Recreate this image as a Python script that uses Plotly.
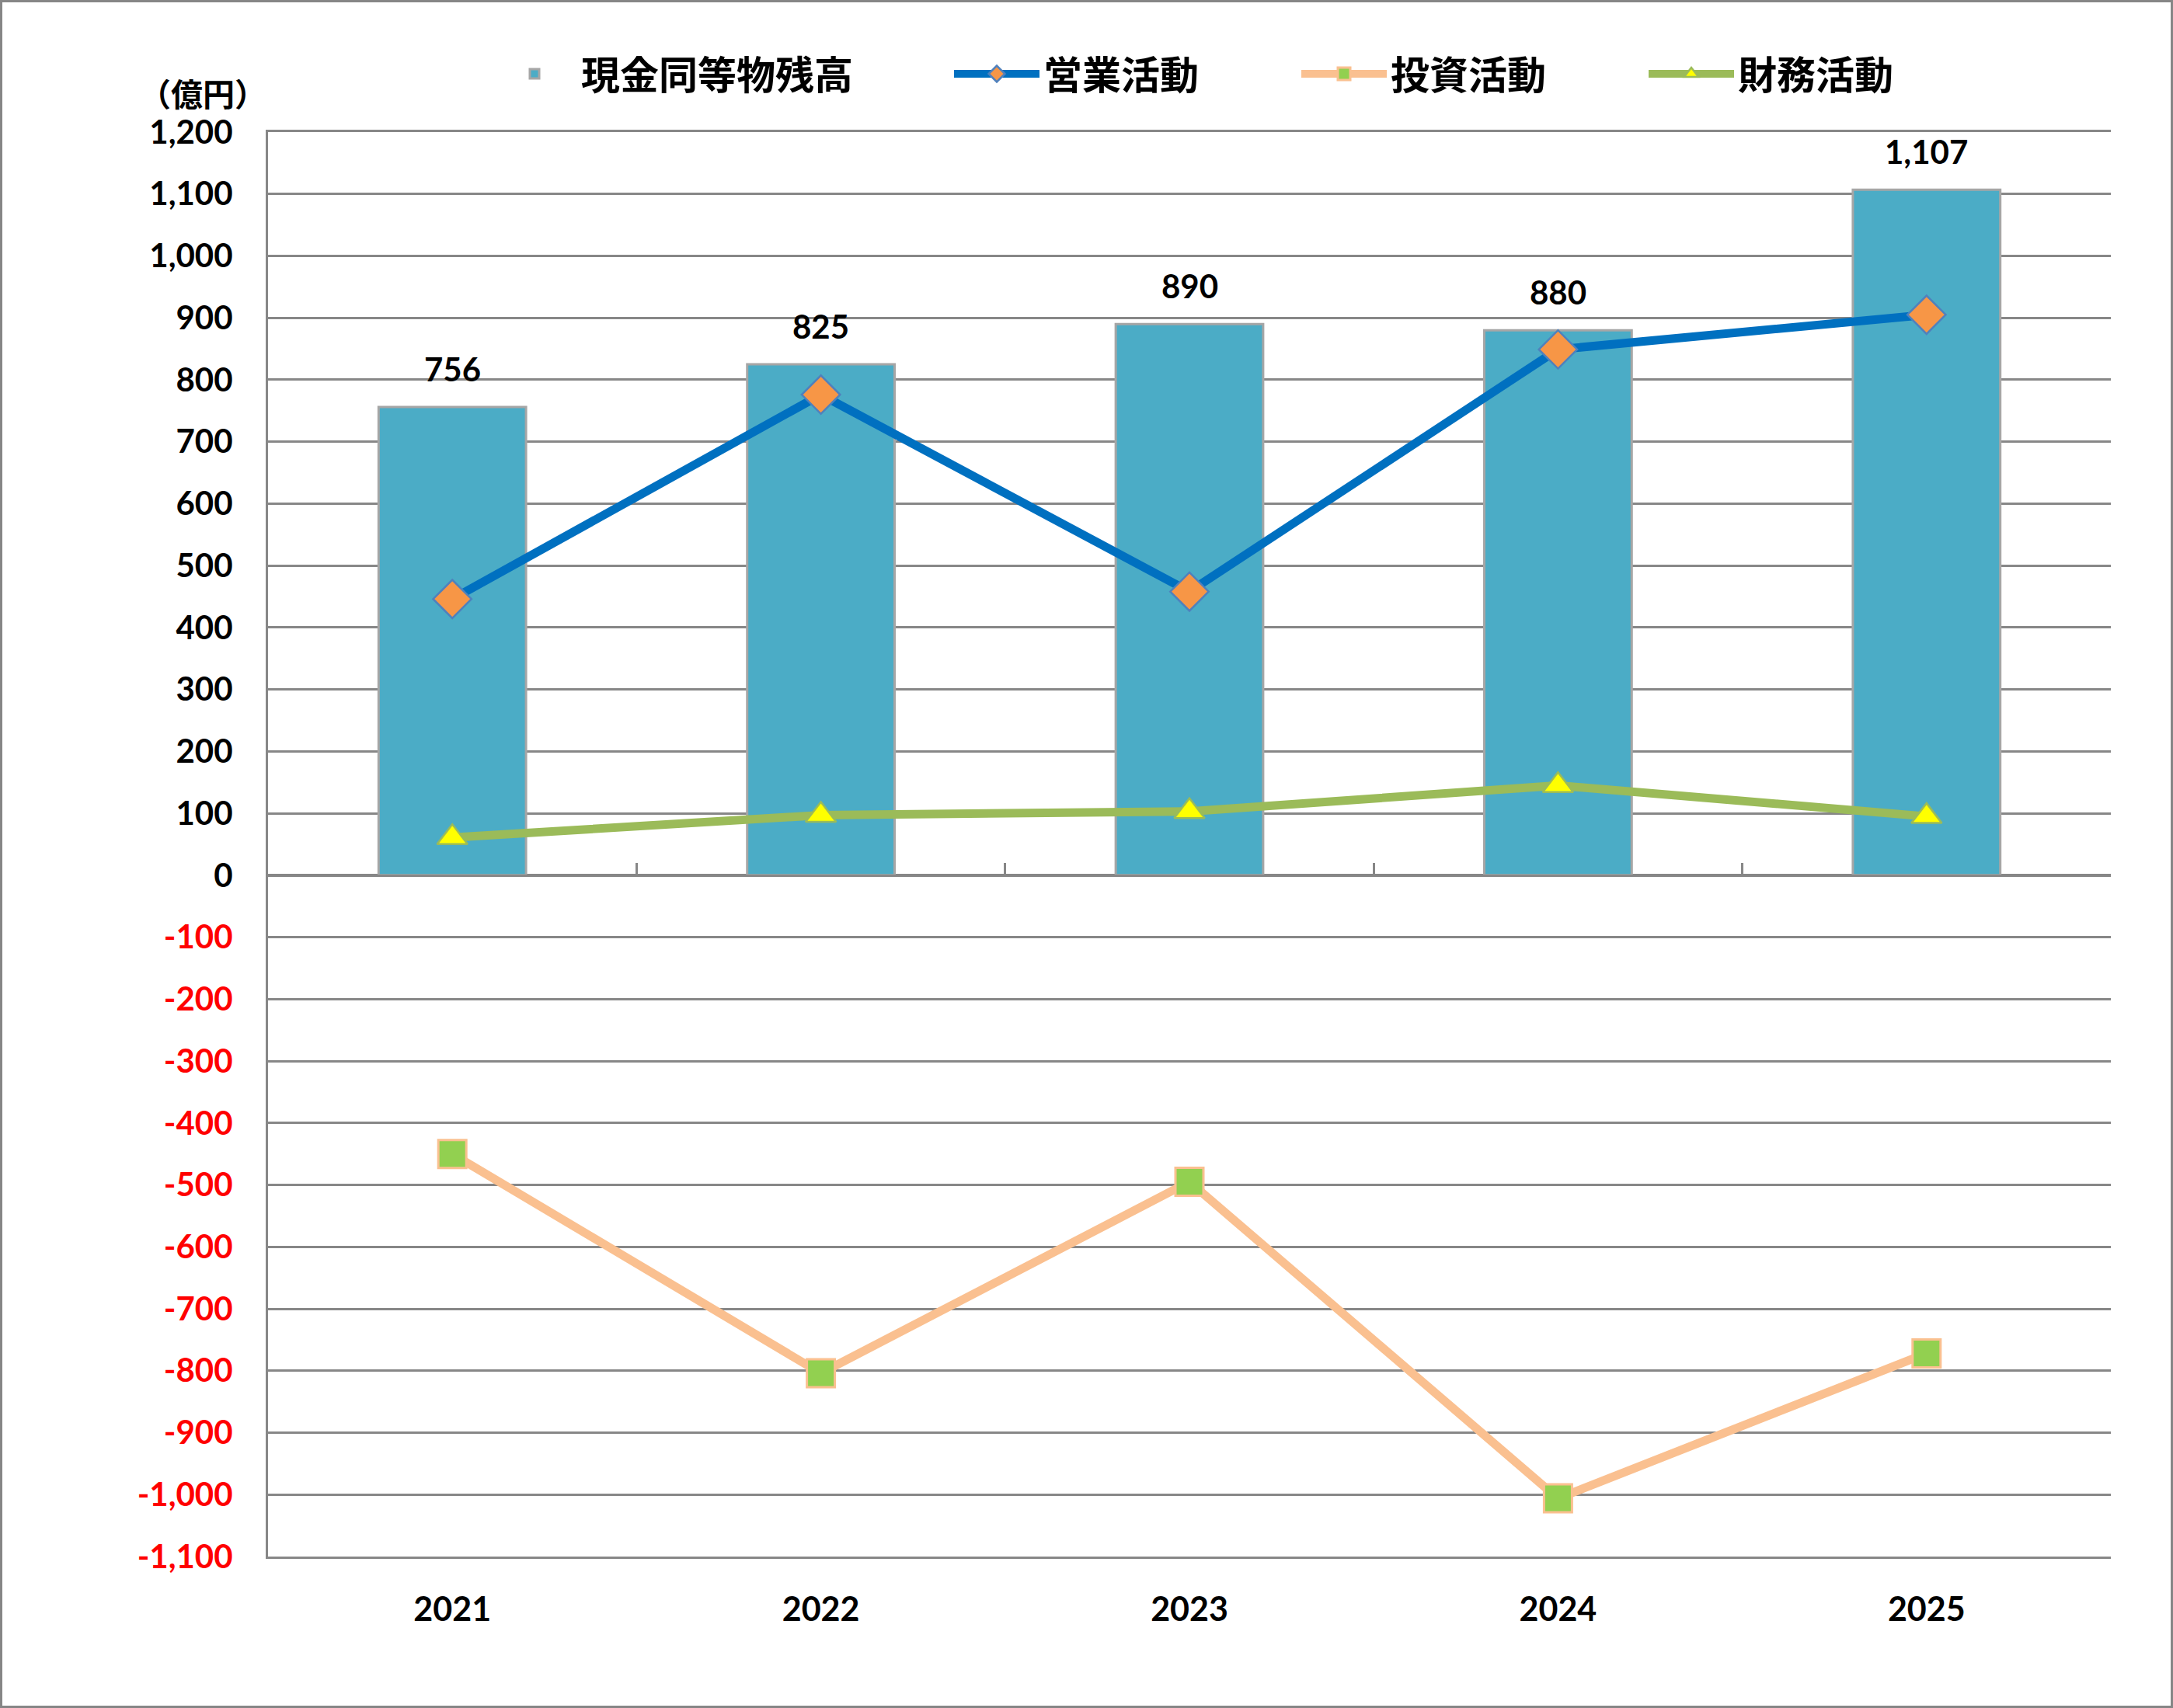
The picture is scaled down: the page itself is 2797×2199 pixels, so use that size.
import plotly.graph_objects as go

years = ["2021", "2022", "2023", "2024", "2025"]
cash_balance = [756, 825, 890, 880, 1107]
operating_cf = [446, 776, 458, 849, 905]
investing_cf = [-450, -804, -495, -1006, -772]
financing_cf = [61, 97, 103, 145, 95]

pos_ticks = [0, 100, 200, 300, 400, 500, 600, 700, 800, 900, 1000, 1100, 1200]
neg_ticks = [-1100, -1000, -900, -800, -700, -600, -500, -400, -300, -200, -100]
y_range = [-1100, 1200]

W, H = 2797, 2199
ML, MR, MT, MB = 345, 80, 170, 195
PW, PH = W - ML - MR, H - MT - MB

GRID = "#878787"
NUM_FONT = "Lato, 'Open Sans', sans-serif"
JP_FONT = "'Noto Sans CJK JP', sans-serif"

def fmt(v):
    return f"{v:,}"

fig = go.Figure()

fig.add_trace(go.Bar(
    x=years, y=cash_balance, name="現金同等物残高",
    marker=dict(color="#4BACC6", line=dict(color="#A6A6A6", width=3)),
    width=0.4, legendwidth=470,
))
fig.add_trace(go.Scatter(
    x=years, y=operating_cf, name="営業活動", mode="lines+markers",
    line=dict(color="#0070C0", width=11),
    marker=dict(symbol="diamond", size=38, color="#F79646",
                line=dict(color="#4F81BD", width=2.5)),
    legendwidth=322,
))
fig.add_trace(go.Scatter(
    x=years, y=investing_cf, name="投資活動", mode="lines+markers",
    line=dict(color="#FAC090", width=11),
    marker=dict(symbol="square", size=36, color="#92D050",
                line=dict(color="#FAC090", width=3)),
    legendwidth=322,
))
fig.add_trace(go.Scatter(
    x=years, y=financing_cf, name="財務活動", mode="lines+markers",
    line=dict(color="#9BBB59", width=11),
    marker=dict(symbol="triangle-up", size=34, color="#FFFF00",
                line=dict(color="#9BBB59", width=2.5)),
    legendwidth=322,
))
# invisible helper trace so the zero-line tick axis is realised
fig.add_trace(go.Scatter(x=[0], y=[0], xaxis="x2", mode="markers",
                         marker=dict(size=1, opacity=0), showlegend=False, hoverinfo="skip"))

# value labels above bars (category index used for x position)
for i, v in enumerate(cash_balance):
    fig.add_annotation(x=i, y=v, xref="x", yref="y", text=f"<b>{fmt(v)}</b>", showarrow=False,
                       yanchor="middle", yshift=49,
                       font=dict(family=NUM_FONT, size=42, color="#000000"))

# unit label
fig.add_annotation(xref="paper", yref="paper", x=(261 - ML) / PW, y=(H - MB - 119) / PH,
                   text="<b>（億円）</b>", showarrow=False, xanchor="center", yanchor="middle",
                   font=dict(family=JP_FONT, size=41, color="#000000"))

# outer border
fig.add_shape(type="rect", xref="paper", yref="paper",
              x0=(1.5 - ML) / PW, x1=(W - 1.5 - ML) / PW,
              y0=(H - MB - (H - 1.5)) / PH, y1=(H - MB - 1.5) / PH,
              line=dict(color="#868686", width=3), fillcolor="rgba(0,0,0,0)", layer="below")

all_ticks = neg_ticks + pos_ticks
ticktext = ([f'<span style="color:#FF0000"><b>{fmt(v)}</b></span>' for v in neg_ticks]
            + [f"<b>{fmt(v)}</b>" for v in pos_ticks])

fig.update_layout(
    width=W, height=H,
    margin=dict(l=ML, r=MR, t=MT, b=MB, pad=0),
    paper_bgcolor="white", plot_bgcolor="white",
    showlegend=True,
    legend=dict(orientation="h", x=(628 - ML) / PW, xanchor="left", y=(H - MB - 95) / PH, yanchor="middle",
                font=dict(family=JP_FONT, size=50, color="#000000", weight="bold"),
                itemwidth=110, traceorder="normal", bgcolor="rgba(0,0,0,0)", entrywidthmode="pixels"),
    xaxis=dict(type="category", categoryorder="array", categoryarray=years,
               range=[-0.5, 4.5], showgrid=False, showline=True, mirror=True,
               linecolor=GRID, linewidth=3,
               ticks="", ticklabelstandoff=28,
               tickfont=dict(family=NUM_FONT, size=43, color="#000000", weight="bold")),
    xaxis2=dict(overlaying="x", anchor="free", position=(0 - y_range[0]) / (y_range[1] - y_range[0]),
                range=[-0.5, 4.5], tickmode="array", tickvals=[-0.5, 0.5, 1.5, 2.5, 3.5, 4.5],
                ticks="inside", ticklen=15, tickwidth=3, tickcolor=GRID,
                showticklabels=False, showgrid=False, showline=True, linecolor=GRID, linewidth=3,
                zeroline=False),
    yaxis=dict(range=y_range, tickmode="array", tickvals=all_ticks, ticktext=ticktext,
               showgrid=True, gridcolor=GRID, gridwidth=3,
               zeroline=True, zerolinecolor=GRID, zerolinewidth=3,
               showline=True, linecolor=GRID, linewidth=3, ticks="", ticklabelstandoff=34,
               tickfont=dict(family=NUM_FONT, size=42, color="#000000")),
)

fig.write_html("out.html")
